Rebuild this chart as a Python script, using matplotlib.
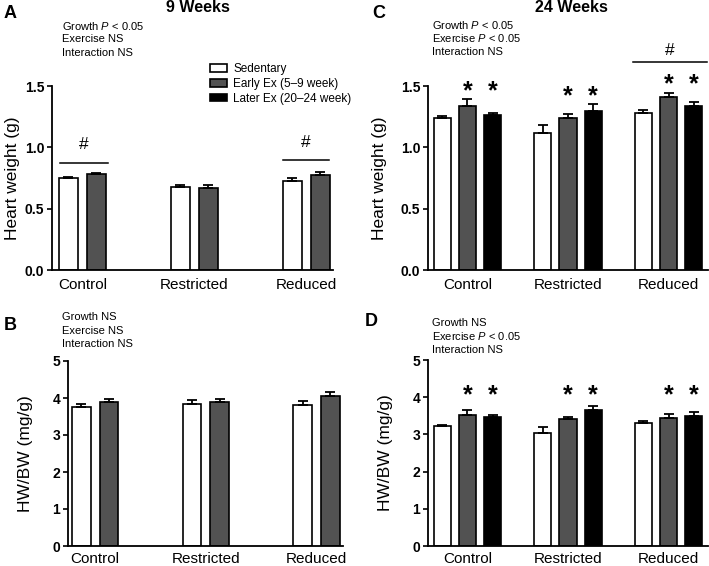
import matplotlib
matplotlib.use("Agg")
import matplotlib.pyplot as plt
from matplotlib.patches import Patch
import numpy as np

plt.rcParams['font.family'] = ['Liberation Sans', 'DejaVu Sans']
plt.rcParams['mathtext.fontset'] = 'custom'
plt.rcParams['mathtext.rm'] = 'Liberation Sans'
plt.rcParams['mathtext.it'] = 'Liberation Sans:italic'

groups = ["Control", "Restricted", "Reduced"]
series_names = ["Sedentary", "Early Ex (5\u20139 week)", "Later Ex (20\u201324 week)"]
colors = ["white", "#525252", "black"]

# 9 weeks heart weight (g)
a_sed = [0.747, 0.674, 0.728]
a_sed_err = [0.013, 0.019, 0.019]
a_early = [0.780, 0.666, 0.774]
a_early_err = [0.010, 0.027, 0.026]

# 9 weeks HW/BW (mg/g)
b_sed = [3.76, 3.85, 3.80]
b_sed_err = [0.07, 0.09, 0.11]
b_early = [3.88, 3.88, 4.05]
b_early_err = [0.08, 0.10, 0.11]

# 24 weeks heart weight (g)
c_sed = [1.24, 1.12, 1.277]
c_sed_err = [0.015, 0.06, 0.025]
c_early = [1.34, 1.236, 1.41]
c_early_err = [0.05, 0.034, 0.03]
c_later = [1.26, 1.30, 1.34]
c_later_err = [0.02, 0.05, 0.03]

# 24 weeks HW/BW (mg/g)
d_sed = [3.23, 3.03, 3.30]
d_sed_err = [0.03, 0.16, 0.06]
d_early = [3.52, 3.42, 3.45]
d_early_err = [0.14, 0.06, 0.09]
d_later = [3.46, 3.66, 3.49]
d_later_err = [0.06, 0.11, 0.11]

W, H = 709, 566
fig = plt.figure(figsize=(W / 100, H / 100), dpi=100)


def add_ax(left, right, top, bottom):
    return fig.add_axes([left / W, 1 - bottom / H, (right - left) / W, (bottom - top) / H])


def ftext(x, y, s, **kw):
    fig.text(x / W, 1 - y / H, s, **kw)


def draw_bars(ax, series, errs, offsets, width):
    x = np.arange(len(groups))
    tops = []
    for i, (vals, err) in enumerate(zip(series, errs)):
        xs = x + offsets[i]
        ax.bar(xs, vals, width, color=colors[i], edgecolor="black", linewidth=1.2, zorder=2)
        ax.errorbar(xs, vals, yerr=[np.zeros(len(vals)), err], fmt="none", ecolor="black",
                    elinewidth=1.3, capsize=3.5, capthick=1.3, zorder=3)
        tops.append(np.array(vals) + np.array(err))
    return x, tops


def style(ax, ylim, yticks, fmt, ylabel, label_x, xpad):
    ax.set_ylim(*ylim)
    ax.set_yticks(yticks)
    ax.set_yticklabels([fmt.format(t) for t in yticks], fontweight="bold", fontsize=10)
    ax.set_xticks(np.arange(len(groups)))
    ax.set_xticklabels(groups, fontsize=11)
    ax.tick_params(axis="x", length=0, pad=xpad)
    ax.tick_params(axis="y", length=3.5, width=1.2, pad=2)
    for s in ["top", "right"]:
        ax.spines[s].set_visible(False)
    for s in ["left", "bottom"]:
        ax.spines[s].set_linewidth(1.3)
    ax.set_ylabel(ylabel, fontsize=12.5)
    ax.yaxis.set_label_coords(label_x, 0.5)


def hash_mark(ax, x0, x1, yline, ytext):
    ax.plot([x0, x1], [yline, yline], color="black", lw=1.1, clip_on=False)
    ax.text((x0 + x1) / 2, ytext, "#", ha="center", va="center", fontsize=12.5)


def stars(ax, xs, y):
    for xx in xs:
        ax.text(xx, y, "*", ha="center", va="center", fontsize=18, fontweight="bold")


# Panel A
axA = add_ax(52, 333, 86, 270)
off2 = [-0.125, 0.125]
x, tops = draw_bars(axA, [a_sed, a_early], [a_sed_err, a_early_err], off2, 0.175)
axA.set_xlim(-0.272, 2.237)
style(axA, (0, 1.5), [0, 0.5, 1.0, 1.5], "{:.1f}", "Heart weight (g)", -0.114, 5.5)
hash_mark(axA, -0.2, 0.228, 0.87, 1.02)
hash_mark(axA, 1.79, 2.2, 0.90, 1.04)

# Panel B
axB = add_ax(68, 343, 361, 546)
x, tops = draw_bars(axB, [b_sed, b_early], [b_sed_err, b_early_err], off2, 0.17)
axB.set_xlim(-0.245, 2.24)
style(axB, (0, 5), [0, 1, 2, 3, 4, 5], "{:d}", "HW/BW (mg/g)", -0.127, 4)

# Panel C
off3 = [-0.25, 0.0, 0.25]
axC = add_ax(428, 708, 86, 270)
x, tops = draw_bars(axC, [c_sed, c_early, c_later],
                    [c_sed_err, c_early_err, c_later_err], off3, 0.17)
axC.set_xlim(-0.393, 2.393)
style(axC, (0, 1.5), [0, 0.5, 1.0, 1.5], "{:.1f}", "Heart weight (g)", -0.146, 5.5)
for g in range(len(groups)):
    ymax = max(tops[1][g], tops[2][g])
    stars(axC, [x[g], x[g] + 0.25], ymax + 0.07)
hash_mark(axC, 1.647, 2.383, 1.695, 1.79)

# Panel D
axD = add_ax(428, 708, 360, 546)
x, tops = draw_bars(axD, [d_sed, d_early, d_later],
                    [d_sed_err, d_early_err, d_later_err], off3, 0.17)
axD.set_xlim(-0.393, 2.393)
style(axD, (0, 5), [0, 1, 2, 3, 4, 5], "{:d}", "HW/BW (mg/g)", -0.125, 4)
for g in range(len(groups)):
    stars(axD, [x[g], x[g] + 0.25], 4.05)

# titles and panel letters
ftext(198, 8, "9 Weeks", ha="center", va="center", fontsize=11.5, fontweight="bold")
ftext(571, 8, "24 Weeks", ha="center", va="center", fontsize=11.5, fontweight="bold")
for lx, ly, lt in [(10, 13, "A"), (379, 13, "C"), (10, 326, "B"), (371, 322, "D")]:
    ftext(lx, ly, lt, ha="center", va="center", fontsize=13, fontweight="bold")

# statistics notes
notes = [
    (62, 26, ["Growth $P$ < 0.05", "Exercise NS", "Interaction NS"]),
    (432, 25, ["Growth $P$ < 0.05", "Exercise $P$ < 0.05", "Interaction NS"]),
    (62, 317, ["Growth NS", "Exercise NS", "Interaction NS"]),
    (432, 323, ["Growth NS", "Exercise $P$ < 0.05", "Interaction NS"]),
]
for nx, ny, lines in notes:
    for k, line in enumerate(lines):
        ftext(nx, ny + 13.5 * k, line, ha="left", va="center", fontsize=8)

handles = [Patch(facecolor=c, edgecolor="black", linewidth=1.2) for c in colors]
fig.legend(handles, series_names, loc="upper left", bbox_to_anchor=(210 / W, 1 - 63 / H),
           frameon=False, fontsize=8.5, handlelength=1.45, handleheight=0.6,
           handletextpad=0.5, labelspacing=0.25, borderpad=0, borderaxespad=0)

fig.savefig("out.png", dpi=100)
